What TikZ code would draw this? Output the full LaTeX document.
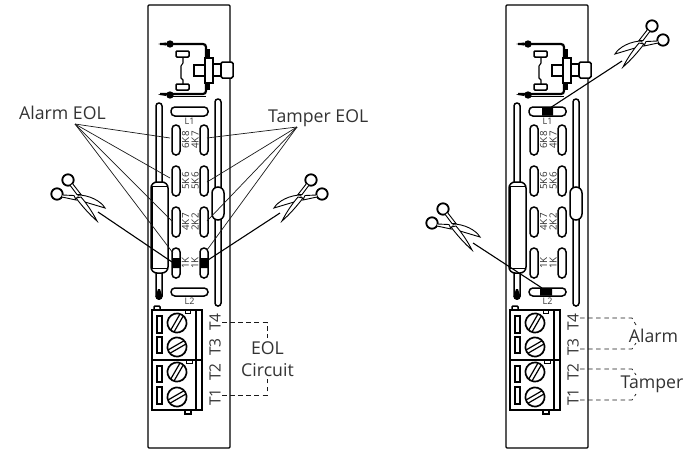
\documentclass[tikz,border=0pt]{standalone}
\usepackage{fontspec}
\setmainfont{Open Sans}
\definecolor{ink}{HTML}{1A1A1A}
\definecolor{txt}{HTML}{333333}
\tikzset{
  part/.style={draw=black,line width=1.5pt,fill=white},
  leader/.style={draw=ink,line width=0.7pt},
  cutline/.style={draw=black,line width=1.1pt},
  dashline/.style={draw=ink,line width=0.8pt,dash pattern=on 4.5pt off 3.6pt},
  biglabel/.style={font=\fontsize{17.7}{20}\selectfont,text=txt,inner sep=0pt},
  termlabel/.style={font=\fontsize{15.5}{17}\selectfont,text=txt,inner sep=0pt,rotate=90},
  vallabel/.style={font=\fontsize{9.8}{12}\selectfont,text=txt,inner sep=0pt,rotate=90},
  linklabel/.style={font=\fontsize{9}{10}\selectfont,text=txt,inner sep=0pt},
}
\newcommand{\slotv}[3]{% x centre, y1, y2
  \draw[part,rounded corners=3.9pt] (#1-4,#2) rectangle (#1+4,#3);}
\newcommand{\sloth}[2]{% y1, y2
  \draw[part,rounded corners=3.9pt] (171,#1) rectangle (208,#2);}
\newcommand{\screw}[3]{% y, angle
  \begin{scope}[shift={(177,#1)},rotate=#2]
    \draw[part,line width=1.7pt] (0,0) circle (9.6);
    \draw[black,line width=1.2pt] (-9,-1.9) -- (9,-1.9) (-9,1.9) -- (9,1.9);
  \end{scope}}
\newcommand{\scis}[3]{% x, y, xscale
  \begin{scope}[shift={(#1,#2)},xscale=#3]
    \draw[black,line width=1.8pt] (-9,-18) circle (5.7) (-20,-4) circle (5.7);
    \draw[black,line width=0.9pt,fill=white] (-7,-12.8) -- (0,-3.5) -- (4,-3.5) -- (-4,-13.8);
    \draw[black,line width=0.9pt,fill=white] (-14.6,-3) -- (-3,-2.5) -- (-1,2) -- (-15,-1);
    \draw[black,line width=0.9pt,fill=white] (1,-3) .. controls (12,-3) and (24,3) .. (28,10) .. controls (18,7) and (8,4) .. (1,2) -- cycle;
    \draw[black,line width=0.9pt,fill=white] (-1,0) .. controls (5,8) and (13,17) .. (20,23) .. controls (16,15) and (10,6) .. (4,-1) -- cycle;
  \end{scope}}
\newcommand{\boardunit}{%
  \draw[black,line width=1.2pt,rounded corners=1pt] (148,5) rectangle (230,448);
  % switch
  \draw[black,line width=2.2pt,rounded corners=3pt] (160,44) -- (206,44) -- (206,94) -- (160,94);
  \draw[black,line width=1pt] (172,96.5) -- (206,96.5);
  \draw[black,line width=2.8pt] (208.5,49) -- (208.5,90);
  \fill[black] (170,44) circle (3.7) (170,95) circle (3.7);
  \fill[black] (158,44) -- (166,42.5) -- (166,45.5) -- cycle (158,94.5) -- (166,93) -- (166,96) -- cycle;
  \draw[part] (205,58) rectangle (213,83);
  \draw[part] (213,64) rectangle (221,76);
  \draw[part,rounded corners=1.5pt] (221,62) rectangle (233,78);
  \draw[part] (194,65) rectangle (205,76);
  \draw[black,line width=1.1pt] (183,57) -- (183,63) -- (181,66) -- (181,78) -- (183,80) -- (183,84);
  \draw[part,rounded corners=1pt] (176,51) rectangle (189,57);
  \draw[part,rounded corners=1pt] (176,84) rectangle (189,90);
  % bars
  \draw[part,rounded corners=2.9pt] (156,103) rectangle (162,190);
  \draw[part,rounded corners=2.9pt] (156,260) rectangle (162,299);
  \fill[black] (159,296.5) circle (3.4);
  \fill[black] (158,289) -- (160,289) -- (162.4,296.5) -- (155.6,296.5) -- cycle;
  \draw[part,rounded corners=2.9pt] (215,99) rectangle (221,306);
  \draw[part,rounded corners=6pt] (212,187) rectangle (224,220);
  % reed
  \draw[part,rounded corners=6pt] (151,182) rectangle (168,273);
  \draw[black,line width=0.9pt] (152,186.5) -- (167,186.5) (152,268.5) -- (167,268.5);
  \draw[black,line width=1.8pt] (152.5,187) -- (152.5,268);
  % links
  \sloth{107}{116}
  \sloth{288}{296}
  \node[linklabel] (l1) at (189.5,121.5) {L1};
  \node[linklabel] (l2) at (189.5,301.5) {L2};
  % slots
  \foreach \cx in {176,204}{
    \slotv{\cx}{125}{155}
    \slotv{\cx}{166}{196}
    \slotv{\cx}{207}{237}
    \slotv{\cx}{248}{278}
  }
  \node[vallabel] (a1) at (185.5,140) {6K8};
  \node[vallabel] (b1) at (195,140) {4K7};
  \node[vallabel] (a2) at (185.5,181) {5K6};
  \node[vallabel] (b2) at (195,181) {5K6};
  \node[vallabel] (a3) at (185.5,222) {4K7};
  \node[vallabel] (b3) at (195,222) {2K2};
  \node[vallabel] (a4) at (185.5,263) {1K};
  \node[vallabel] (b4) at (195,263) {1K};
  % terminal block
  \draw[part,rounded corners=1pt] (154,306) rectangle (160,311);
  \draw[part] (185,408) rectangle (191,414);
  \draw[part,line width=1.6pt] (152,310) rectangle (202,410);
  \draw[black,line width=1.3pt] (152,360) -- (202,360) (196,310) -- (196,410);
  \draw[black,line width=1pt] (185,310) -- (185,313) -- (190,313) -- (190,310);
  \draw[black,line width=1pt] (186,360) -- (186,363) -- (192,363) -- (192,360);
  \foreach \ya/\yb in {316/333,337/353,366/382,387/404}{
    \draw[part] (157,\ya) rectangle (162,\yb);
  }
  \screw{323}{60}{}
  \screw{347}{30}{}
  \screw{372}{60}{}
  \screw{397}{30}{}
  \node[termlabel] (t4) at (215,322) {T4};
  \node[termlabel] (t3) at (215,347) {T3};
  \node[termlabel] (t2) at (215,372) {T2};
  \node[termlabel] (t1) at (215,397) {T1};
}
\begin{document}
\begin{tikzpicture}[x=1pt,y=-1pt]
\useasboundingbox (0,0) rectangle (686,451);
% left board
\boardunit
\fill[black] (172,258) rectangle (180,268) (200,258) rectangle (208,268);
% right board
\begin{scope}[shift={(358,0)}]
  \boardunit
\end{scope}
\fill[black] (542,107.5) rectangle (553,115.5) (540,288.5) rectangle (552,295.5);
% labels
\node[biglabel,anchor=base west] (alarmeol) at (19,119) {Alarm EOL};
\node[biglabel,anchor=base west] (tampereol) at (268,122.5) {Tamper EOL};
\coordinate (ae) at (75,124);
\coordinate (te) at (297,127);
\foreach \p in {(170,138),(170,178),(173,222),(173,253)} \draw[leader] (ae) -- \p;
\foreach \p in {(207,138),(207,182),(207,221),(207,250)} \draw[leader] (te) -- \p;
% scissors
\scis{77}{198}{1}
\scis{302}{198}{-1}
\scis{452}{227}{1}
\scis{643}{44}{-1}
\coordinate (c1a) at (98,212); \coordinate (c1b) at (172,262);
\coordinate (c2a) at (280,213); \coordinate (c2b) at (208,260);
\coordinate (c3a) at (473,243); \coordinate (c3b) at (542,288);
\coordinate (c4a) at (622,61); \coordinate (c4b) at (550,108);
\draw[cutline] (c1a) -- (c1b);
\draw[cutline] (c2a) -- (c2b);
\draw[cutline] (c3a) -- (c3b);
\draw[cutline] (c4a) -- (c4b);
% left wiring
\node[biglabel] (eol) at (267.5,348) {EOL};
\node[biglabel] (circuit) at (267.5,370.5) {Circuit};
\draw[dashline] (222,322.5) -- (267,322.5) -- (267,338);
\draw[dashline] (222,395) -- (267,395) -- (267,379);
% right wiring
\node[biglabel] (alarm) at (653.5,336) {Alarm};
\node[biglabel] (tamper) at (652,384) {Tamper};
\draw[dashline] (580,318) -- (632,318) -- (636,325);
\draw[dashline] (580,349) -- (632,349) -- (636,343);
\draw[dashline] (580,369) -- (632,369) -- (636,375);
\draw[dashline] (580,400) -- (632,400) -- (636,394);
\end{tikzpicture}
\end{document}
